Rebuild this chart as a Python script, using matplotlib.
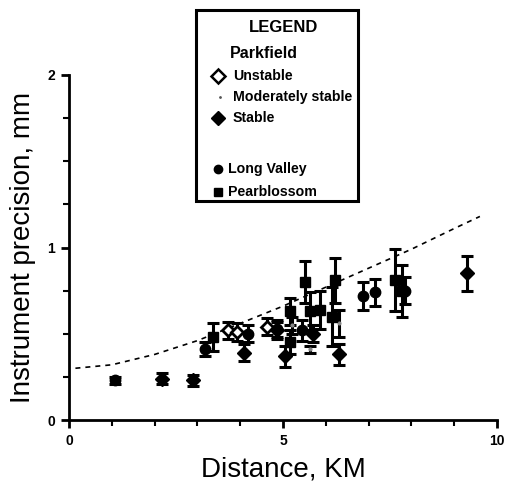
import matplotlib
matplotlib.use("Agg")
import matplotlib.pyplot as plt
from matplotlib.patches import Rectangle
from matplotlib.lines import Line2D

plt.rcParams['font.family'] = ['Liberation Sans', 'DejaVu Sans']

# Parkfield - unstable (open diamond)
unst_x = [3.72, 3.92, 4.62]
unst_y = [0.52, 0.51, 0.54]
unst_e = [0.05, 0.05, 0.05]

# Parkfield - moderately stable (tiny gray mark)
mod_x = [5.22, 5.63, 6.30]
mod_y = [0.55, 0.41, 0.56]
mod_e = [0.05, 0.02, 0.08]

# Parkfield - stable (filled diamond)
stab_x = [2.17, 2.90, 4.10, 4.86, 5.05, 5.70, 6.30, 9.30]
stab_y = [0.24, 0.23, 0.39, 0.52, 0.37, 0.50, 0.38, 0.85]
stab_e = [0.03, 0.03, 0.05, 0.05, 0.06, 0.05, 0.06, 0.10]

# Long Valley (circles)
lv_x = [1.07, 3.18, 4.18, 4.85, 5.44, 6.87, 7.15, 7.85]
lv_y = [0.23, 0.41, 0.50, 0.53, 0.52, 0.72, 0.74, 0.75]
lv_e = [0.02, 0.04, 0.05, 0.05, 0.06, 0.08, 0.08, 0.08]

# Pearblossom (squares)
pb_x = [3.37, 5.16, 5.16, 5.51, 5.63, 5.86, 6.14, 6.21, 7.62, 7.78]
pb_y = [0.48, 0.63, 0.45, 0.80, 0.63, 0.64, 0.60, 0.81, 0.81, 0.75]
pb_e = [0.08, 0.08, 0.07, 0.12, 0.11, 0.11, 0.17, 0.13, 0.18, 0.15]

# dashed curve
curve_x = [0.15, 1.0, 2.0, 3.0, 4.0, 5.0, 6.0, 7.0, 8.0, 9.0, 9.6]
curve_y = [0.30, 0.32, 0.38, 0.46, 0.56, 0.66, 0.77, 0.88, 0.99, 1.11, 1.18]

fig = plt.figure(figsize=(5.06, 4.82), dpi=100)
ax = fig.add_axes([69/506, 1-420/482, (497-69)/506, (420-75)/482])

ax.plot(curve_x, curve_y, color='black', lw=1.2, ls=(0, (3, 3)))

eb = dict(fmt='none', ecolor='black', elinewidth=2.2, capsize=4, capthick=2.2, zorder=3)
for xs, ys, es in [(unst_x, unst_y, unst_e), (mod_x, mod_y, mod_e), (stab_x, stab_y, stab_e),
                   (lv_x, lv_y, lv_e), (pb_x, pb_y, pb_e)]:
    ax.errorbar(xs, ys, yerr=es, **eb)

ax.plot(unst_x, unst_y, 'D', ms=6.5, mfc='white', mec='black', mew=2, zorder=4, ls='none')
ax.plot(mod_x, mod_y, '.', ms=4, color='#888888', zorder=4, ls='none')
ax.plot(stab_x, stab_y, 'D', ms=7.5, color='black', zorder=4, ls='none')
ax.plot(lv_x, lv_y, 'o', ms=7.5, color='black', zorder=4, ls='none')
ax.plot(pb_x, pb_y, 's', ms=7.5, color='black', zorder=4, ls='none')

ax.set_xlim(0, 10)
ax.set_ylim(0, 2)
ax.spines['top'].set_visible(False)
ax.spines['right'].set_visible(False)
for s in ['left', 'bottom']:
    ax.spines[s].set_linewidth(2)
ax.set_xticks([0, 5, 10])
ax.set_xticks([1, 2, 3, 4, 6, 7, 8, 9], minor=True)
ax.set_yticks([0, 1, 2])
ax.set_yticks([0.25, 0.5, 0.75, 1.25, 1.5, 1.75], minor=True)
ax.tick_params(which='major', direction='out', length=6, width=2, labelsize=10, pad=4)
ax.tick_params(which='minor', direction='out', length=4, width=1.5)
for lab in ax.get_xticklabels() + ax.get_yticklabels():
    lab.set_fontweight('bold')
ax.set_xlabel('Distance, KM', fontsize=20, labelpad=6)
ax.set_ylabel('Instrument precision, mm', fontsize=20, labelpad=8)

# Legend box
bx0, bx1, by0, by1 = 196, 358, 10, 201
fig.patches.append(Rectangle((bx0/506, 1-by1/482), (bx1-bx0)/506, (by1-by0)/482,
                             transform=fig.transFigure, fc='white', ec='black', lw=2.2, zorder=10))

def fx(px):
    return px/506

def fy(py):
    return 1-py/482

fig.text(fx(284), fy(27), 'LEGEND', ha='center', va='center', fontsize=12, fontweight='bold', zorder=11)
fig.text(fx(230), fy(54), 'Parkfield', ha='left', va='center', fontsize=11.5, fontweight='bold', zorder=11)
items = [
    (76, 'Unstable', dict(marker='D', ms=7, mfc='white', mec='black', mew=1.8), 218, 233),
    (97, 'Moderately stable', dict(marker='.', ms=2, color='#555555'), 220, 233),
    (118, 'Stable', dict(marker='D', ms=7, color='black'), 218, 233),
    (169, 'Long Valley', dict(marker='o', ms=6, color='black'), 218, 228),
    (192, 'Pearblossom', dict(marker='s', ms=6, color='black'), 218, 228),
]
for py, txt, mk, mx, tx in items:
    fig.add_artist(Line2D([fx(mx)], [fy(py)], transform=fig.transFigure, ls='none', zorder=11, **mk))
    fig.text(fx(tx), fy(py), txt, ha='left', va='center', fontsize=10.2, fontweight='bold', zorder=11)

fig.savefig('out.png', dpi=100)
